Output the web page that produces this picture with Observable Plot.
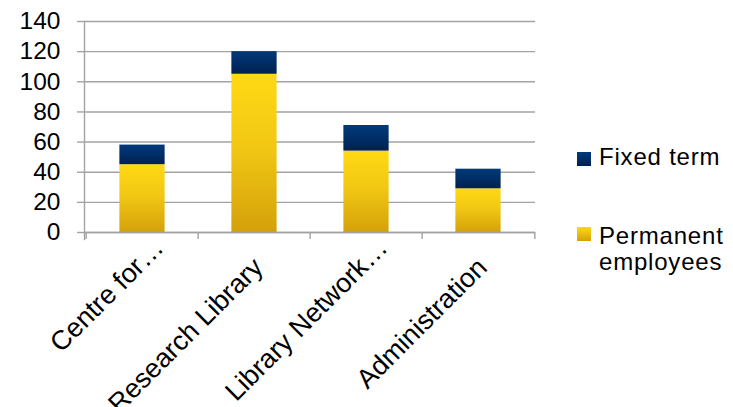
<!DOCTYPE html>
<html><head><meta charset="utf-8">
<script src="https://cdn.jsdelivr.net/npm/d3@7"></script>
<script src="https://cdn.jsdelivr.net/npm/@observablehq/plot@0.6"></script>
<style>
body{margin:0;background:#fff;font-family:"Liberation Sans",Arial,sans-serif}
#wrap{position:relative;width:733px;height:407px;overflow:hidden}
.sw{position:absolute;left:577px;width:14px;height:14px}
.lt{position:absolute;left:599px;font-size:24px;letter-spacing:0.8px;color:#000;white-space:nowrap;line-height:26px}
</style></head><body><div id="wrap"></div>
<script>
const categories = ["Centre for…", "Research Library", "Library Network…", "Administration"];
const seriesNames = ["Permanent employees", "Fixed term"];
const permanent = [45, 105, 54, 29];
const fixedTerm = [13, 15, 17, 13];
const yTicks = [0, 20, 40, 60, 80, 100, 120, 140];

const fills = {"Permanent employees": "url(#gYellow)", "Fixed term": "url(#gNavy)"};
const rows = [];
categories.forEach((c, i) => {
  rows.push({category: c, series: seriesNames[0], value: permanent[i]});
  rows.push({category: c, series: seriesNames[1], value: fixedTerm[i]});
});

const W = 733, H = 407, mL = 84, mR = 198, mT = 21, mB = 175;
const bw = (W - mL - mR) / categories.length;
const barW = 46;
const inset = (bw - barW) / 2;
const grey = "#a3a3a3";
const truncated = categories.filter(c => c.endsWith("…"));
const full = categories.filter(c => !c.endsWith("…"));

const svg = Plot.plot({
  width: W, height: H,
  marginLeft: mL, marginRight: mR, marginTop: mT, marginBottom: mB,
  style: {fontFamily: "'Liberation Sans', Arial, sans-serif", fontSize: "24px", color: "#000", background: "#fff"},
  x: {domain: categories, padding: 0},
  y: {domain: [0, 140]},
  color: {type: "identity"},
  marks: [
    Plot.gridY(yTicks, {stroke: grey, strokeOpacity: 1, strokeWidth: 1.4}),
    Plot.axisY(yTicks, {tickSize: 7, tickPadding: 17, stroke: grey, strokeWidth: 1.4, label: null, fontSize: 24.5, fill: "#000"}),
    Plot.barY(rows, Plot.stackY({
      x: "category", y: "value", order: seriesNames,
      fill: d => fills[d.series],
      insetLeft: inset, insetRight: inset,
      style: "filter: drop-shadow(1px 1px 1.5px rgba(0,0,0,0.35))"
    })),
    Plot.axisX(categories, {tickSize: 7, tickFormat: () => "", stroke: grey, strokeWidth: 1.4, dx: -bw / 2, label: null}),
    Plot.axisX([categories[categories.length - 1]], {tickSize: 7, tickFormat: () => "", stroke: grey, strokeWidth: 1.4, dx: bw / 2, label: null}),
    Plot.axisX(truncated, {tickSize: 0, tickRotate: -45, tickPadding: 10.9, dx: 16.4, fontSize: 27, fill: "#000", label: null}),
    Plot.axisX(full, {tickSize: 0, tickRotate: -45, tickPadding: 30.4, dx: 3.9, fontSize: 27, fill: "#000", label: null}),
    Plot.ruleY([0], {stroke: grey, strokeWidth: 1.4}),
    Plot.frame({anchor: "left", stroke: grey, strokeWidth: 1.4, insetBottom: -7})
  ]
});

const defs = d3.select(svg).insert("defs", ":first-child");
const gy = defs.append("linearGradient").attr("id", "gYellow").attr("x1", 0).attr("y1", 0).attr("x2", 0).attr("y2", 1);
gy.append("stop").attr("offset", "0%").attr("stop-color", "#ffd914");
gy.append("stop").attr("offset", "45%").attr("stop-color", "#f2c814");
gy.append("stop").attr("offset", "100%").attr("stop-color", "#d4a10a");
const gn = defs.append("linearGradient").attr("id", "gNavy").attr("x1", 0).attr("y1", 0).attr("x2", 0).attr("y2", 1);
gn.append("stop").attr("offset", "0%").attr("stop-color", "#003a7c");
gn.append("stop").attr("offset", "100%").attr("stop-color", "#00214f");

const wrap = document.getElementById("wrap");
wrap.appendChild(svg);

const legend = [
  {lines: ["Fixed term"], bg: "linear-gradient(#003a7c,#00214f)", swTop: 152, txtTop: 144},
  {lines: ["Permanent", "employees"], bg: "linear-gradient(#ffd914,#d4a10a)", swTop: 227, txtTop: 223}
];
legend.forEach(l => {
  const s = document.createElement("div");
  s.className = "sw"; s.style.top = l.swTop + "px"; s.style.background = l.bg;
  wrap.appendChild(s);
  l.lines.forEach((line, j) => {
    const t = document.createElement("div");
    t.className = "lt"; t.style.top = (l.txtTop + j * 26) + "px";
    t.textContent = line;
    wrap.appendChild(t);
  });
});
</script></body></html>
